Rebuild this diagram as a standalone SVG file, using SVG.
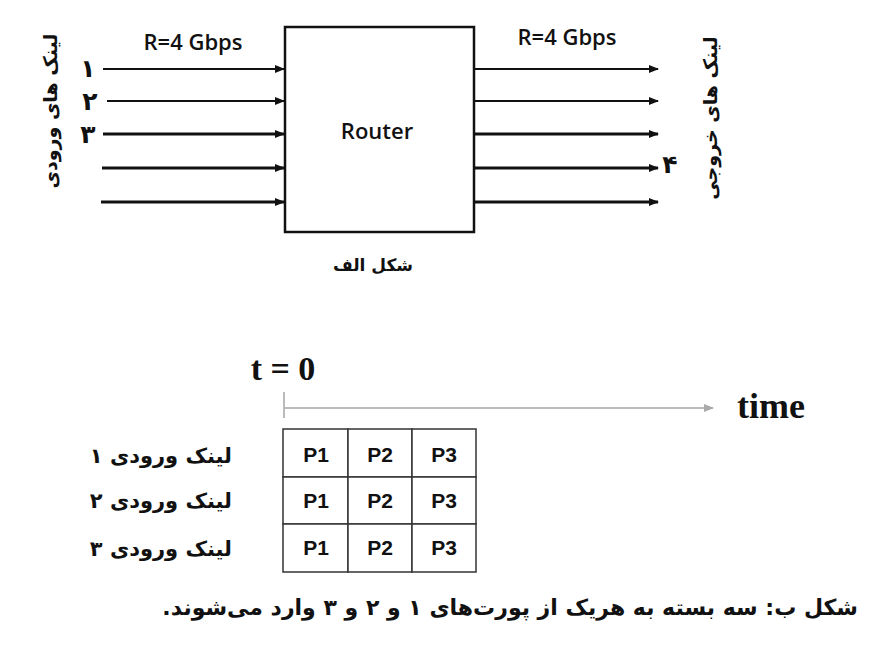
<svg xmlns="http://www.w3.org/2000/svg" width="884" height="654" viewBox="0 0 884 654">
<style>
.lat{font-family:"Liberation Sans",Arial,sans-serif;font-weight:bold;fill:#111}
.os{font-family:"Open Sans","Liberation Sans",sans-serif;font-weight:600;fill:#111}
.fa{font-family:"DejaVu Sans","Noto Sans",sans-serif;font-weight:bold;fill:#111}
.tm{font-family:"Liberation Serif","Times New Roman",serif;font-weight:bold;fill:#111}
.ln{stroke:#111;fill:none}
.cell{fill:#fff;stroke:#333;stroke-width:1.5}
</style>
<defs>
<marker id="ah" markerUnits="userSpaceOnUse" markerWidth="10" markerHeight="8" refX="9" refY="4" orient="auto">
<path d="M0,0 L10,4 L0,8 z" fill="#111"/>
</marker>
<marker id="gh" markerUnits="userSpaceOnUse" markerWidth="10" markerHeight="8" refX="9" refY="4" orient="auto">
<path d="M0,0 L10,4 L0,8 z" fill="#aaa"/>
</marker>
</defs>
<rect width="884" height="654" fill="#fff"/>

<g id="router">
<rect x="285" y="27" width="189" height="205" fill="#fff" stroke="#111" stroke-width="2.5"/>
<text x="377" y="139" class="os" font-size="22" text-anchor="middle">Router</text>
</g>

<g id="connectors">
<line class="ln" x1="103" y1="69" x2="284" y2="69" stroke-width="2" marker-end="url(#ah)"/>
<line class="ln" x1="107" y1="101" x2="284" y2="101" stroke-width="2" marker-end="url(#ah)"/>
<line class="ln" x1="103" y1="134" x2="284" y2="134" stroke-width="3" marker-end="url(#ah)"/>
<line class="ln" x1="102" y1="168" x2="284" y2="168" stroke-width="3" marker-end="url(#ah)"/>
<line class="ln" x1="101" y1="202" x2="284" y2="202" stroke-width="3" marker-end="url(#ah)"/>
<line class="ln" x1="474" y1="69" x2="658" y2="69" stroke-width="2" marker-end="url(#ah)"/>
<line class="ln" x1="474" y1="101" x2="658" y2="101" stroke-width="2" marker-end="url(#ah)"/>
<line class="ln" x1="474" y1="134" x2="658" y2="134" stroke-width="3" marker-end="url(#ah)"/>
<line class="ln" x1="474" y1="168" x2="658" y2="168" stroke-width="3" marker-end="url(#ah)"/>
<line class="ln" x1="474" y1="202" x2="658" y2="202" stroke-width="3" marker-end="url(#ah)"/>
<line x1="284" y1="408" x2="713" y2="408" stroke="#bbb" stroke-width="2" marker-end="url(#gh)"/>
<line x1="284" y1="392" x2="284" y2="418" stroke="#bbb" stroke-width="2"/>
</g>

<g id="labels-a">
<text x="193" y="50" class="os" font-size="22" text-anchor="middle">R=4 Gbps</text>
<text x="567" y="45" class="os" font-size="22" text-anchor="middle">R=4 Gbps</text>
<text x="88" y="77" class="fa" font-size="25" text-anchor="middle">۱</text>
<text x="90" y="110" class="fa" font-size="25" text-anchor="middle">۲</text>
<text x="88" y="143" class="fa" font-size="25" text-anchor="middle">۳</text>
<text x="670" y="173" class="fa" font-size="25" text-anchor="middle">۴</text>
<text class="fa" font-size="19" text-anchor="middle" direction="rtl" transform="translate(57,111) rotate(-90)">لینک های ورودی</text>
<text class="fa" font-size="19" text-anchor="middle" direction="rtl" transform="translate(717,118) rotate(-90)">لینک های خروجی</text>
<text x="373" y="271" class="fa" font-size="17" text-anchor="middle" direction="rtl">شکل الف</text>
</g>

<g id="timeline">
<text x="283" y="380" class="tm" font-size="34" text-anchor="middle">t = 0</text>
<text x="771" y="418" class="tm" font-size="36" text-anchor="middle">time</text>
</g>

<g id="table">
<rect class="cell" x="283" y="429" width="65" height="48"/>
<rect class="cell" x="348" y="429" width="64" height="48"/>
<rect class="cell" x="412" y="429" width="64" height="48"/>
<rect class="cell" x="283" y="477" width="65" height="47"/>
<rect class="cell" x="348" y="477" width="64" height="47"/>
<rect class="cell" x="412" y="477" width="64" height="47"/>
<rect class="cell" x="283" y="524" width="65" height="48"/>
<rect class="cell" x="348" y="524" width="64" height="48"/>
<rect class="cell" x="412" y="524" width="64" height="48"/>
<g class="lat" font-size="21" text-anchor="middle">
<text x="316" y="462">P1</text><text x="380" y="462">P2</text><text x="444" y="462">P3</text>
<text x="316" y="508">P1</text><text x="380" y="508">P2</text><text x="444" y="508">P3</text>
<text x="316" y="555">P1</text><text x="380" y="555">P2</text><text x="444" y="555">P3</text>
</g>
</g>

<g id="row-labels">
<text x="232" y="463" class="fa" font-size="21" direction="rtl" text-anchor="start">لینک ورودی ۱</text>
<text x="232" y="508" class="fa" font-size="21" direction="rtl" text-anchor="start">لینک ورودی ۲</text>
<text x="232" y="556" class="fa" font-size="21" direction="rtl" text-anchor="start">لینک ورودی ۳</text>
</g>

<g id="caption">
<text x="858" y="615" class="fa" font-size="22" direction="rtl" text-anchor="start">شکل ب: سه بسته به هریک از پورت‌های ۱ و ۲ و ۳ وارد می‌شوند.</text>
</g>
</svg>
